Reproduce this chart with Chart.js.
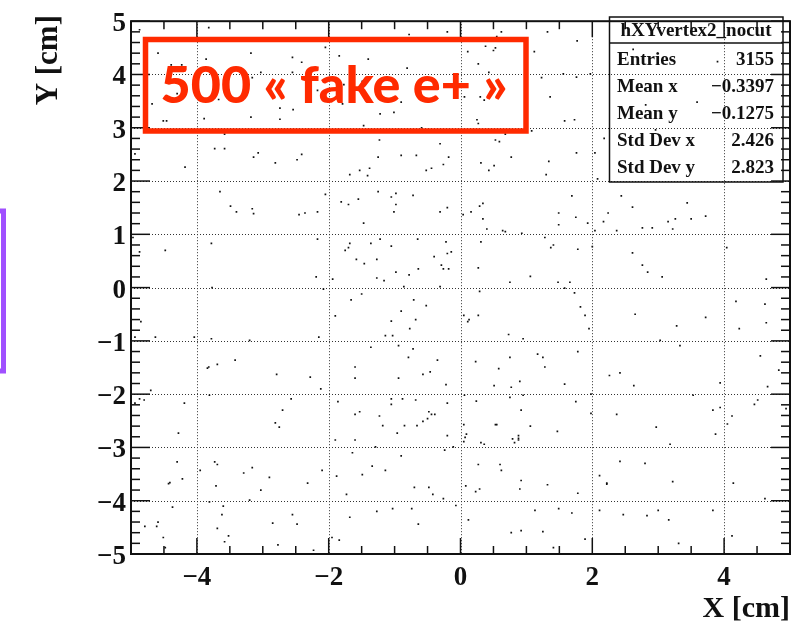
<!DOCTYPE html>
<html>
<head>
<meta charset="utf-8">
<script src="https://cdn.jsdelivr.net/npm/chart.js@4.4.1/dist/chart.umd.min.js"></script>
<style>
  html, body { margin: 0; padding: 0; background: #fff; }
  canvas { display: block; }
</style>
</head>
<body>
<canvas id="vertexChart" width="794" height="625"></canvas>
<script>
// tick labels and grid positions
const xTickLabels = [-4, -2, 0, 2, 4];
const yTickLabels = [-5, -4, -3, -2, -1, 0, 1, 2, 3, 4, 5];

// stats box
const histName = "hXYvertex2_nocut";
const statNames = ["Entries", "Mean x", "Mean y", "Std Dev x", "Std Dev y"];
const statValues = ["3155", "\u22120.3397", "\u22120.1275", "2.426", "2.823"];

const noteText = "500 \u00ab fake e+ \u00bb";

// vertex positions [x, y] in cm
const hitsXY = [
  [-4.87,4.84],[-3.82,4.88],[-4.59,4.40],[-4.39,4.18],[-4.23,4.18],[-3.86,4.29],[-3.18,4.40],[-3.29,4.07],
  [-3.16,3.94],[-3.03,4.04],[-2.55,4.32],[-2.55,4.04],[-4.19,3.80],[-4.30,3.64],[-4.68,3.45],[-3.67,3.53],
  [-2.74,3.37],[-2.54,3.34],[-3.89,3.17],[-3.18,3.20],[-2.74,3.16],[-4.51,3.13],[-4.46,3.13],[-3.07,2.94],
  [-3.58,2.88],[-4.94,2.51],[-3.73,2.61],[-3.58,2.61],[-3.14,2.45],[-3.07,2.53],[-2.81,2.34],[-4.18,2.26],
  [-3.65,1.80],[-3.49,1.53],[-3.40,1.42],[-3.16,1.48],[-3.14,1.39],[-4.97,0.94],[-3.78,0.83],[-4.48,0.70],
  [-4.87,0.67],[-3.77,0.0],
  [-0.78,4.75],[-0.20,4.80],[-2.05,4.51],[-1.84,4.35],[-1.40,4.29],[-2.41,4.23],[-0.81,4.12],[-1.77,3.81],
  [-1.49,3.87],[-2.17,3.70],[-1.79,3.45],[-0.90,3.48],[-1.22,3.26],[-1.01,3.29],[-1.47,3.04],[-1.73,2.94],
  [-0.59,3.00],[-1.23,2.77],[-0.31,2.70],[-2.41,2.50],[-2.48,2.40],[-1.25,2.45],[-0.90,2.48],[-0.67,2.48],
  [-0.18,2.45],[-1.38,2.24],[-1.53,2.20],[-1.68,2.12],[-1.41,2.10],[-0.52,2.20],[-0.44,2.24],[-0.26,2.31],
  [-2.05,1.75],[-1.25,1.80],[-1.81,1.61],[-1.70,1.56],[-1.55,1.66],[-1.05,1.70],[-0.98,1.77],[-0.98,1.56],
  [-1.01,1.42],[-0.72,1.73],[-2.45,1.37],[-2.36,1.40],[-2.17,1.42],[-0.31,1.42],[-0.20,1.50],[-1.47,1.21],
  [-2.17,0.91],[-1.22,0.91],[-0.65,0.91],[-1.68,0.83],[-1.36,0.83],[-1.70,0.75],[-1.75,0.70],[-1.05,0.78],
  [-0.22,0.86],[-0.14,0.67],[-0.20,0.64],[-1.58,0.53],[-1.46,0.45],[-1.27,0.53],[-0.40,0.58],[-0.29,0.42],
  [-0.26,0.35],[-0.18,0.35],[-0.64,0.35],[-0.98,0.29],[-0.78,0.24],[-2.19,0.20],[-1.94,0.16],[-1.27,0.18],
  [-1.16,0.13],[-0.86,0.02],[-0.31,0.02],
  [0.62,4.80],[1.32,4.80],[0.11,4.66],[0.55,4.71],[1.77,4.63],[0.38,4.53],[0.53,4.50],[0.50,4.45],
  [0.11,4.43],[1.12,4.43],[0.27,4.20],[0.43,4.04],[1.23,3.94],[1.56,4.01],[1.76,3.95],[1.97,4.01],
  [0.06,3.58],[0.30,3.58],[0.36,3.52],[1.36,3.58],[0.25,3.15],[0.27,3.08],[1.58,3.13],[1.73,3.15],
  [1.08,2.94],[0.68,2.88],[0.53,2.77],[0.59,2.74],[2.18,2.80],[2.04,2.53],[1.76,2.53],[0.77,2.45],
  [0.31,2.34],[0.51,2.29],[0.43,2.20],[1.34,2.37],[1.30,2.12],[2.08,2.04],[2.44,1.72],[1.69,1.72],
  [0.34,1.58],[0.29,1.53],[0.16,1.42],[0.04,1.37],[0.34,1.29],[0.40,1.10],[0.64,1.07],[0.68,1.05],
  [0.93,1.02],[1.49,1.40],[1.49,1.18],[1.75,1.32],[1.93,1.21],[2.24,1.40],[2.17,1.24],[2.04,1.07],
  [2.37,1.07],[1.28,0.94],[0.31,0.86],[1.37,0.75],[1.41,0.80],[1.78,0.72],[2.00,0.77],[0.27,0.37],
  [1.06,0.21],[0.75,0.10],[1.48,0.10],[1.66,0.10],[1.58,-0.01],
  [2.62,4.47],[3.90,4.24],[3.59,3.48],[2.81,3.43],[2.96,2.96],[2.61,1.51],[3.44,1.59],[3.26,1.29],
  [3.15,1.24],[3.50,1.29],[3.72,1.34],[2.76,1.12],[2.91,1.12],[3.22,1.10],[4.04,0.75],[2.61,0.65],
  [2.76,0.42],[2.84,0.29],[3.06,0.20],[4.64,0.16],
  [-4.85,-0.64],[-4.94,-0.93],[-4.63,-0.93],[-4.04,-0.93],[-3.78,-0.96],[-3.20,-0.99],[-3.42,-1.36],[-3.69,-1.44],
  [-3.84,-1.51],[-3.82,-1.49],[-2.79,-1.63],[-4.70,-1.93],[-3.81,-2.02],[-4.87,-2.09],[-4.80,-2.11],[-4.94,-2.17],
  [-2.57,-2.09],[-4.19,-2.17],[-2.70,-2.30],[-2.81,-2.54],[-2.75,-2.62],[-4.28,-2.73],[-4.30,-3.27],[-3.73,-3.27],
  [-3.69,-3.32],[-3.95,-3.43],[-3.16,-3.38],[-3.29,-3.48],[-4.43,-3.68],[-4.41,-3.66],[-4.22,-3.59],[-2.90,-3.56],
  [-3.71,-3.72],[-3.03,-3.80],[-3.20,-3.99],[-3.81,-4.02],[-3.60,-4.10],[-4.37,-4.12],[-3.62,-4.26],[-2.55,-4.26],
  [-4.59,-4.40],[-4.79,-4.48],[-4.61,-4.48],[-2.85,-4.42],[-3.69,-4.52],[-3.52,-4.66],[-3.58,-4.77],[-4.51,-4.69],
  [-4.48,-4.88],[-2.77,-4.83],
  [-2.08,-0.03],[-1.50,-0.12],[-1.66,-0.23],[-0.71,-0.23],[-0.52,-0.34],[-0.90,-0.44],[-1.90,-0.53],[-0.68,-0.60],
  [-1.05,-0.63],[-0.77,-0.77],[-1.14,-0.90],[-1.03,-0.90],[-2.15,-0.93],[-1.36,-1.12],[-0.94,-1.09],[-0.72,-1.15],
  [-0.79,-1.31],[-0.35,-1.36],[-1.60,-1.49],[-2.28,-1.68],[-1.60,-1.70],[-0.94,-1.70],[-0.57,-1.63],[-0.46,-1.58],
  [-0.22,-1.82],[-2.12,-1.90],[-1.05,-2.09],[-0.88,-2.09],[-1.05,-2.19],[-0.68,-2.11],[-1.86,-2.14],[-0.20,-2.17],
  [-1.60,-2.38],[-1.53,-2.33],[-1.23,-2.41],[-0.48,-2.33],[-0.44,-2.38],[-0.39,-2.38],[-0.50,-2.46],[-0.57,-2.51],
  [-1.18,-2.59],[-0.85,-2.59],[-0.66,-2.59],[-0.96,-2.73],[-0.20,-2.78],[-1.90,-2.86],[-1.60,-2.86],[-1.29,-2.99],
  [-0.11,-2.99],[-0.24,-3.05],[-1.64,-3.10],[-0.90,-3.16],[-1.34,-3.35],[-2.10,-3.43],[-1.14,-3.43],[-1.88,-3.54],
  [-1.49,-3.51],[-2.32,-3.67],[-0.70,-3.75],[-0.48,-3.75],[-0.42,-3.88],[-1.73,-3.88],[-0.26,-3.96],[-0.07,-4.09],
  [-1.03,-4.15],[-0.74,-4.15],[-1.27,-4.20],[-1.68,-4.31],[-2.48,-4.44],[-0.64,-4.44],[-1.95,-4.69],[-1.84,-4.74],
  [-2.23,-4.93],
  [0.29,-0.07],[1.73,-0.10],[1.82,-0.36],[0.05,-0.52],[0.27,-0.52],[1.89,-0.52],[0.13,-0.60],[0.11,-0.64],
  [1.95,-0.77],[0.73,-0.88],[0.95,-0.96],[1.78,-1.20],[1.17,-1.25],[0.75,-1.31],[1.25,-1.31],[0.23,-1.39],
  [1.28,-1.49],[0.58,-1.52],[0.90,-1.76],[0.51,-1.84],[0.77,-1.87],[1.58,-1.81],[2.26,-1.65],[2.42,-1.60],
  [0.06,-2.02],[0.75,-2.06],[0.95,-2.02],[1.98,-2.00],[0.24,-2.13],[1.75,-2.14],[0.92,-2.30],[1.98,-2.36],
  [2.37,-2.38],[0.05,-2.57],[0.53,-2.57],[0.55,-2.57],[1.06,-2.60],[0.09,-2.75],[0.07,-2.81],[0.05,-2.89],
  [1.47,-2.70],[0.88,-2.78],[0.88,-2.83],[0.88,-2.86],[0.79,-2.84],[0.82,-2.91],[0.31,-2.91],[0.36,-2.94],
  [0.27,-3.32],[0.60,-3.32],[0.62,-3.43],[2.42,-3.26],[2.11,-3.53],[2.22,-3.67],[2.22,-3.69],[0.92,-3.62],
  [0.90,-3.78],[0.08,-3.72],[0.29,-3.78],[0.23,-3.83],[1.32,-3.70],[1.78,-3.86],[1.13,-4.18],[1.49,-4.15],
  [1.69,-4.23],[2.11,-4.18],[2.47,-4.26],[0.12,-4.36],[0.92,-4.56],[0.77,-4.60],[1.25,-4.58],[1.89,-4.72],
  [1.41,-4.88],
  [4.18,-0.26],[4.62,-0.31],[2.65,-0.50],[3.72,-0.56],[4.64,-0.66],[3.28,-0.72],[4.23,-0.77],[3.03,-0.99],
  [3.33,-1.09],[4.55,-1.28],[4.83,-1.55],[2.63,-1.84],[3.94,-1.79],[4.66,-1.86],[3.53,-2.02],[4.51,-2.11],
  [4.46,-2.19],[3.94,-2.25],[3.83,-2.30],[4.94,-2.27],[4.12,-2.41],[4.05,-2.56],[2.97,-2.62],[3.87,-2.75],
  [3.18,-2.94],[2.80,-3.30],[3.22,-3.64],[4.14,-3.67],[4.62,-3.96],[3.00,-4.18],[3.83,-4.18],[2.83,-4.28],
  [3.16,-4.36],[4.12,-4.66],[3.31,-4.80]
];

const serif = '"Liberation Serif", "DejaVu Serif", serif';
const minus = (v) => String(v).replace("-", "\u2212");

function line(ctx, x1, y1, x2, y2) {
  ctx.beginPath();
  ctx.moveTo(x1, y1);
  ctx.lineTo(x2, y2);
  ctx.stroke();
}

// ROOT style frame: dotted grid under the points, inward ticks, stats box and note on top
const rootFrame = {
  id: "rootFrame",
  beforeDatasetsDraw(chart) {
    const { ctx, chartArea: a, scales: { x, y } } = chart;
    ctx.save();
    ctx.strokeStyle = "#333";
    ctx.lineWidth = 1;
    ctx.setLineDash([1, 2]);
    xTickLabels.forEach((v) => {
      const px = Math.round(x.getPixelForValue(v)) + 0.5;
      line(ctx, px, a.top, px, a.bottom);
    });
    yTickLabels.slice(1, -1).forEach((v) => {
      const py = Math.round(y.getPixelForValue(v)) + 0.5;
      line(ctx, a.left, py, a.right, py);
    });
    ctx.restore();
  },
  afterDatasetsDraw(chart) {
    const { ctx, chartArea: a, scales: { x, y } } = chart;
    ctx.save();
    ctx.strokeStyle = "#111";
    ctx.lineWidth = 1.5;
    // x ticks (bottom and top)
    for (let i = 0; i <= 20; i++) {
      const v = -5 + i * 0.5;
      const len = Math.abs(v % 2) < 1e-9 ? 16 : 8;
      const px = x.getPixelForValue(v);
      line(ctx, px, a.bottom, px, a.bottom - len);
      line(ctx, px, a.top, px, a.top + len);
    }
    // y ticks (left and right)
    for (let i = 0; i <= 50; i++) {
      const v = -5 + i * 0.2;
      const len = Math.abs(v - Math.round(v)) < 1e-6 ? 19 : 9;
      const py = y.getPixelForValue(v);
      line(ctx, a.left, py, a.left + len, py);
      line(ctx, a.right, py, a.right - len, py);
    }
    ctx.lineWidth = 2;
    ctx.strokeRect(a.left, a.top, a.right - a.left, a.bottom - a.top);

    // stats box
    ctx.lineWidth = 1.5;
    ctx.strokeStyle = "#111";
    ctx.strokeRect(609.5, 17, 173.5, 165);
    line(ctx, 609.5, 43, 783, 43);
    ctx.fillStyle = "#111";
    ctx.font = "bold 19px " + serif;
    ctx.textAlign = "center";
    ctx.fillText(histName, 696, 36);
    statNames.forEach((name, i) => {
      const base = 65 + i * 27;
      ctx.textAlign = "left";
      ctx.fillText(name, 617, base);
      ctx.textAlign = "right";
      ctx.fillText(statValues[i], 774, base);
    });

    // red note
    ctx.strokeStyle = "#ff2a00";
    ctx.lineWidth = 5.5;
    ctx.strokeRect(145.5, 39.5, 380.5, 91.5);
    ctx.fillStyle = "#ff2a00";
    ctx.font = "900 52px Lato, \"Open Sans\", sans-serif";
    ctx.textAlign = "center";
    ctx.fillText(noteText, 334, 103);
    ctx.restore();
  },
  afterDraw(chart) {
    const { ctx } = chart;
    ctx.save();
    ctx.fillStyle = "#111";
    ctx.font = "bold 30px " + serif;
    ctx.textAlign = "right";
    ctx.fillText("X [cm]", 790, 617);
    ctx.translate(57, 15);
    ctx.rotate(-Math.PI / 2);
    ctx.font = "bold 31px " + serif;
    ctx.fillText("Y [cm]", 0, 0);
    ctx.restore();

    // purple edge of a neighbouring box
    ctx.save();
    ctx.strokeStyle = "#a050ff";
    ctx.lineWidth = 5;
    ctx.strokeRect(-20, 211, 23.5, 160);
    ctx.restore();
  }
};

const ctx = document.getElementById("vertexChart").getContext("2d");
new Chart(ctx, {
  type: "scatter",
  data: {
    datasets: [{
      label: histName,
      data: hitsXY.map(([px, py]) => ({ x: px, y: py })),
      pointStyle: "rect",
      pointRadius: 1.2,
      borderWidth: 0,
      backgroundColor: "#111"
    }]
  },
  options: {
    responsive: false,
    animation: false,
    events: [],
    layout: { padding: { top: 17, right: 3, left: 0, bottom: 0 } },
    plugins: { legend: { display: false }, tooltip: { enabled: false } },
    scales: {
      x: {
        type: "linear",
        min: -5,
        max: 5,
        afterBuildTicks: (s) => { s.ticks = xTickLabels.map((v) => ({ value: v })); },
        afterFit: (s) => { s.height = 71; },
        grid: { display: false, drawTicks: false },
        border: { display: false },
        ticks: {
          autoSkip: false,
          maxRotation: 0,
          padding: 8,
          color: "#111",
          font: { family: serif, size: 27, weight: "bold" },
          callback: (v) => minus(v)
        }
      },
      y: {
        type: "linear",
        min: -5,
        max: 5,
        afterBuildTicks: (s) => { s.ticks = yTickLabels.map((v) => ({ value: v })); },
        afterFit: (s) => { s.width = 131; },
        grid: { display: false, drawTicks: false },
        border: { display: false },
        ticks: {
          autoSkip: false,
          padding: 5,
          labelOffset: 3,
          color: "#111",
          font: { family: serif, size: 27, weight: "bold" },
          callback: (v) => minus(v)
        }
      }
    }
  },
  plugins: [rootFrame]
});
</script>
</body>
</html>
